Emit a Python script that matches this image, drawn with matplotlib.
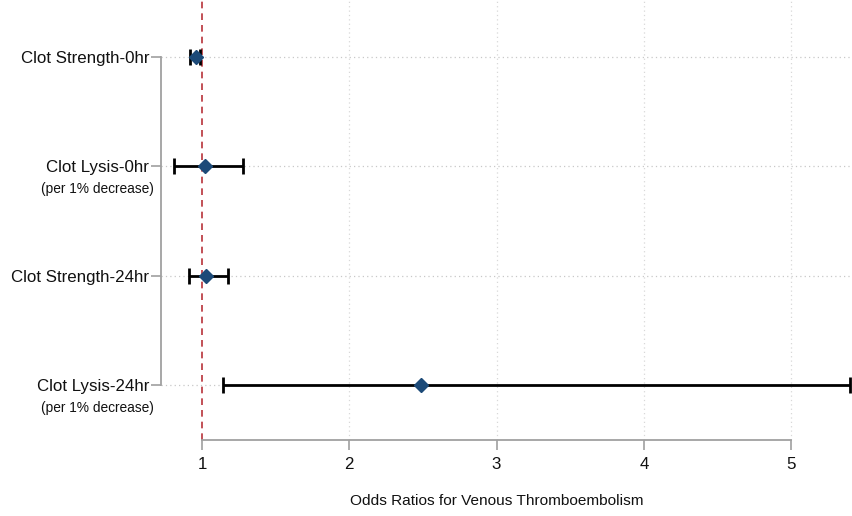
import numpy as np
import matplotlib.pyplot as plt
from matplotlib.transforms import blended_transform_factory

plt.rcParams['font.family'] = ['Liberation Sans', 'DejaVu Sans']

# data
labels = ["Clot Strength-0hr", "Clot Lysis-0hr", "Clot Strength-24hr", "Clot Lysis-24hr"]
sublabels = ["", "(per 1% decrease)", "", "(per 1% decrease)"]
odds = [0.96, 1.02, 1.03, 2.49]
ci_low = [0.92, 0.81, 0.91, 1.14]
ci_high = [0.99, 1.28, 1.18, 5.40]
xticks = [1, 2, 3, 4, 5]

ypos = np.arange(len(labels))
odds = np.array(odds)
err = np.vstack([odds - np.array(ci_low), np.array(ci_high) - odds])

fig = plt.figure(figsize=(8.52, 5.16), dpi=100)
ax = fig.add_axes([161/852, 76/516, 691/852, 440/516])

ax.set_xlim(0.722, 5.413)
ax.set_ylim(3.503, -0.52)

# grid lines (dotted, light)
for y in ypos:
    ax.axhline(y, color='#c8c8c8', lw=0.9, ls=(0, (1, 2.5)), zorder=1)
for x in xticks[1:]:
    ax.axvline(x, color='#d8d8d8', lw=0.9, ls=(0, (1, 2.5)), zorder=1)

# reference line at OR = 1
ax.axvline(1, color='#b8323a', lw=1.2, ls=(0, (4, 3)), zorder=2)

ax.errorbar(odds, ypos, xerr=err, fmt='none', ecolor='black', elinewidth=2,
            capsize=6, capthick=2, zorder=3)
ax.plot(odds, ypos, 'D', color='#1c4a78', markersize=7.5, zorder=4)

for s in ['top', 'right']:
    ax.spines[s].set_visible(False)
ax.spines['left'].set_bounds(0, 3)
ax.spines['bottom'].set_bounds(1, 5)
for s in ['left', 'bottom']:
    ax.spines[s].set_color('#a0a0a0')
    ax.spines[s].set_linewidth(1.3)

ax.set_yticks(ypos)
ax.set_yticklabels(labels, fontsize=12.2, color='#111111')
ax.tick_params(axis='y', length=7, width=1.2, color='#a0a0a0', pad=1.5)
ax.set_xticks(xticks)
ax.set_xticklabels([str(t) for t in xticks], fontsize=12.2, color='#111111')
ax.tick_params(axis='x', length=7, width=1.2, color='#a0a0a0', pad=5)

trans = blended_transform_factory(ax.transAxes, ax.transData)
for y, s in zip(ypos, sublabels):
    if s:
        ax.annotate(s, xy=(0, y), xycoords=trans, xytext=(-5, -16.5),
                    textcoords='offset points', ha='right', va='center',
                    fontsize=9.9, color='#111111')

ax.set_xlabel("Odds Ratios for Venous Thromboembolism", fontsize=11.1, color='#111111')
ax.xaxis.set_label_coords(0.486, -0.122)

fig.savefig('out.png', dpi=100)
